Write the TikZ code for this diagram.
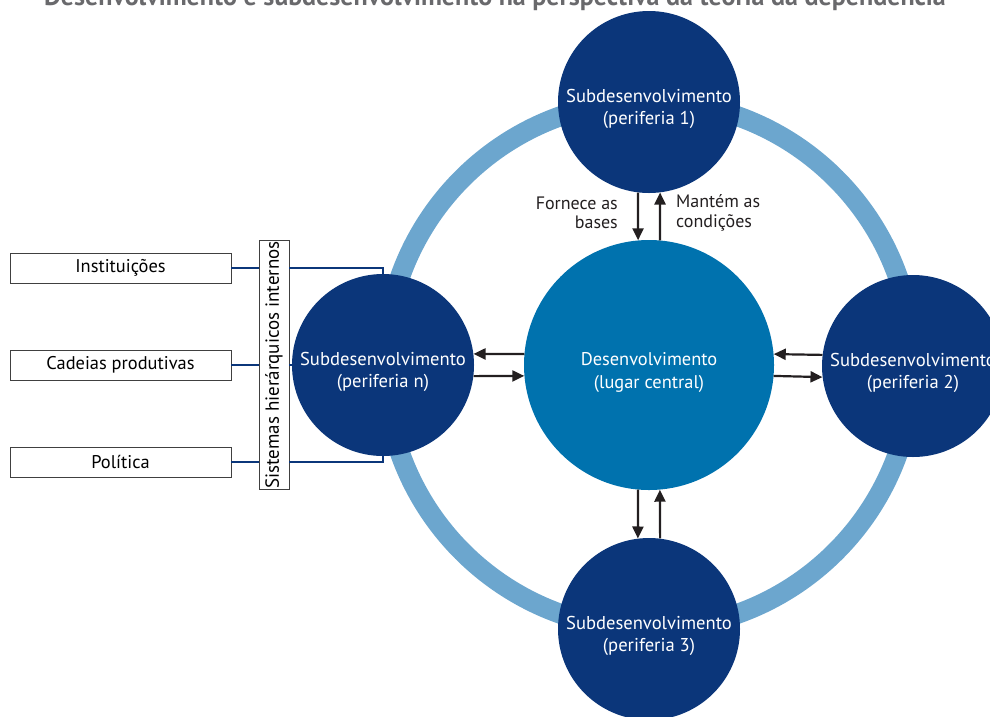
\documentclass[tikz,border=0pt]{standalone}
\usepackage{fontspec}
\setmainfont{PT Sans}
\usetikzlibrary{arrows.meta}

\definecolor{navy}{RGB}{11,54,122}
\definecolor{coreblue}{RGB}{0,114,174}
\definecolor{ringblue}{RGB}{108,166,206}
\definecolor{arrowgray}{RGB}{35,31,32}
\definecolor{titlegray}{RGB}{105,105,108}

% two centred lines, set a little below the middle of the circle
\newcommand{\perilines}[2]{\raisebox{0pt}[\dimexpr\height+14pt\relax][\depth]{%
    \begin{tabular}{@{}c@{}}#1\\#2\end{tabular}}}

\tikzset{
    peri/.style={circle, fill=navy, text=white, minimum size=182pt, inner sep=0pt,
        align=center, font=\fontsize{18.6}{22}\selectfont},
    core/.style={circle, fill=coreblue, text=white, minimum size=250pt, inner sep=0pt,
        align=center, font=\fontsize{18.4}{23}\selectfont},
    ring/.style={draw=ringblue, line width=20pt},
    flow/.style={draw=arrowgray, line width=2.2pt, -{Triangle[length=12pt, width=11pt]}},
    link/.style={draw=navy, line width=1.8pt},
    itembox/.style={draw=black!75, line width=0.8pt, minimum width=221pt, minimum height=30pt,
        inner sep=0pt, font=\fontsize{18.4}{20}\selectfont},
    sysbox/.style={draw=black!75, line width=0.8pt, minimum width=249pt, minimum height=30pt,
        inner sep=0pt, rotate=90, font=\fontsize{19}{20}\selectfont},
    note/.style={inner sep=0pt, text=arrowgray, font=\fontsize{18}{19.5}\selectfont}
}

\begin{document}
\begin{tikzpicture}[x=1pt, y=-1pt]
    \useasboundingbox (0, 0) rectangle (990, 716);

    % title, cut at the top edge
    \node[anchor=base, text=titlegray, font=\fontsize{26}{28}\selectfont\bfseries] (title) at (495, 5)
        {Desenvolvimento e subdesenvolvimento na perspectiva da teoria da dependência};

    % centre and ring
    \node[core] (ctr) at (649, 365) {\perilines{Desenvolvimento}{(lugar central)}};
    \draw[ring] (ctr.center) circle (264pt);

    % peripheries
    \node[peri] (p1) at (649, 102) {\perilines{Subdesenvolvimento}{(periferia 1)}};
    \node[peri] (p2) at (913, 366) {\perilines{Subdesenvolvimento}{(periferia 2)}};
    \node[peri] (p3) at (649, 629) {\perilines{Subdesenvolvimento}{(periferia 3)}};
    \node[peri] (pn) at (383, 365) {\perilines{Subdesenvolvimento}{(periferia n)}};

    % flows between centre and peripheries
    \draw[flow] (p1.-97) -- (ctr.95);    %  p1 -- ctr
    \draw[flow] (ctr.85) -- (p1.-83);    %  ctr -- p1
    \draw[flow] (ctr.175) -- (pn.7);     %  ctr -- pn
    \draw[flow] (pn.-7) -- (ctr.-175);   %  pn -- ctr
    \draw[flow] (p2.173) -- (ctr.5);     %  p2 -- ctr
    \draw[flow] (ctr.-5) -- (p2.-173);   %  ctr -- p2
    \draw[flow] (ctr.-95) -- (p3.97);    %  ctr -- p3
    \draw[flow] (p3.83) -- (ctr.-85);    %  p3 -- ctr

    \node[note, anchor=east, align=right] (fornece) at (618, 213) {Fornece as\\bases};
    \node[note, anchor=west, align=left] (mantem) at (676, 213) {Mantém as\\condições};

    % internal hierarchies of periphery n
    \node[itembox] (inst) at (120.5, 268) {Instituições};
    \node[itembox] (cad) at (120.5, 365) {Cadeias produtivas};
    \node[itembox] (pol) at (120.5, 462) {Política};
    \node[sysbox] (sis) at (274, 365) {Sistemas hierárquicos internos};

    \draw[link] (inst.east) -- (inst.east -| sis.north);
    \draw[link] (cad.east) -- (cad.east -| sis.north);
    \draw[link] (pol.east) -- (pol.east -| sis.north);
    \draw[link] (inst.east -| sis.south) -| (pn.north);
    \draw[link] (cad.east -| sis.south) -- (pn.west);
    \draw[link] (pol.east -| sis.south) -| (pn.south);
\end{tikzpicture}
\end{document}
